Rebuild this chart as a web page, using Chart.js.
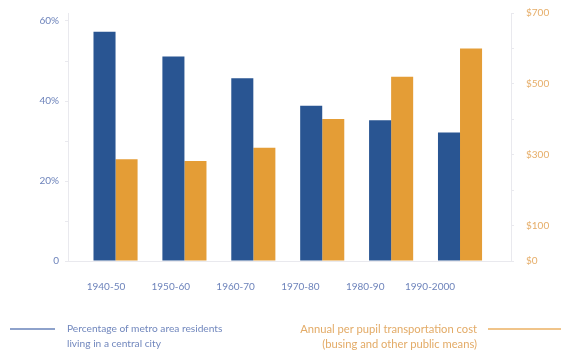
<!DOCTYPE html>
<html>
<head>
<meta charset="utf-8">
<script src="https://cdn.jsdelivr.net/npm/chart.js@4"></script>
<style>
  body { margin: 0; background: #fff; }
  #wrap { position: relative; width: 561px; height: 353px; }
  .leg { position: absolute; font-family: Lato, sans-serif; line-height: 15px; }
  .leg-line { position: absolute; height: 2px; }
</style>
</head>
<body>
<div id="wrap">
  <canvas id="chart1" width="561" height="353"></canvas>
  <div class="leg-line" style="left:10px; top:328px; width:45px; background:#8ea2cb;"></div>
  <div class="leg" style="left:67px; top:321px; font-size:10.2px; color:#7187bd;">Percentage of metro area residents<br>living in a central city</div>
  <div class="leg-line" style="left:488px; top:328px; width:73px; background:#f0c48a;"></div>
  <div class="leg" style="right:84px; top:321px; font-size:11.2px; color:#e3ab67; text-align:right;">Annual per pupil transportation cost<br>(busing and other public means)</div>
</div>
<script>
// decades on the x axis
var decades = ["1940-50", "1950-60", "1960-70", "1970-80", "1980-90", "1990-2000"];
// % of metro residents living in a central city (left axis)
var cityShare = [57.3, 51.1, 45.7, 38.8, 35.2, 32.1];
// annual per pupil transportation cost, $ (right axis)
var pupilCost = [287, 282, 320, 401, 520, 600];
// tick labels
var leftTicks = [0, 10, 20, 30, 40, 50, 60];
var rightTicks = [0, 100, 200, 300, 400, 500, 600, 700];

var axisGray = '#e9e9ee';

function decadeTicks(scale) {
    scale.ticks = decades.map(function(d, i) { return { value: i }; });
}

// fixed side widths and top gap for the y axes
function fitY(width) {
    return function(scale) {
        scale.width = width;
        scale.paddingTop = 13;
        scale.paddingBottom = 0;
    };
}

var canvas = document.getElementById("chart1");
var ctx = canvas.getContext('2d');

var myChart = new Chart(ctx, {
    type: 'bar',
    data: {
        datasets: [{
            label: "Percentage of metro area residents living in a central city",
            data: cityShare.map(function(v, i) { return { x: i, y: v }; }),
            backgroundColor: "#295592",
            xAxisID: 'x',
            yAxisID: 'y'
        }, {
            label: "Annual per pupil transportation cost",
            data: pupilCost.map(function(v, i) { return { x: i, y: v }; }),
            backgroundColor: "#e49d36",
            xAxisID: 'x',
            yAxisID: 'y2'
        }]
    },
    options: {
        responsive: false,
        animation: false,
        categoryPercentage: 0.64,
        barPercentage: 1,
        layout: { padding: 0 },
        scales: {
            // bar positions
            x: {
                type: 'linear',
                display: false,
                offset: false,
                min: -0.69,
                max: 5.74,
                afterBuildTicks: decadeTicks
            },
            // decade labels
            x2: {
                type: 'linear',
                position: 'bottom',
                offset: false,
                min: -0.586,
                max: 6.25,
                afterBuildTicks: decadeTicks,
                afterFit: function(scale) { scale.height = 92; },
                grid: { display: false, drawTicks: false, offset: false },
                border: { display: true, color: axisGray, width: 1 },
                ticks: {
                    padding: 20,
                    maxRotation: 0,
                    autoSkip: false,
                    color: '#6d83bb',
                    font: { family: 'Lato', size: 10 },
                    callback: function(v) { return decades[v]; }
                }
            },
            y: {
                position: 'left',
                min: 0,
                max: 62,
                afterBuildTicks: function(scale) {
                    scale.ticks = leftTicks.map(function(v) { return { value: v }; });
                },
                afterFit: fitY(68),
                grid: { drawOnChartArea: false, color: axisGray, tickLength: 3 },
                border: { color: axisGray },
                ticks: {
                    padding: 6,
                    color: '#6d83bb',
                    font: { family: 'Lato', size: 10 },
                    callback: function(v) {
                        if (v === 0) return '0';
                        return v % 20 === 0 ? v + '%' : '';
                    }
                }
            },
            y2: {
                position: 'right',
                min: 0,
                max: 700,
                afterBuildTicks: function(scale) {
                    scale.ticks = rightTicks.map(function(v) { return { value: v }; });
                },
                afterFit: fitY(50),
                grid: { drawOnChartArea: false, color: axisGray, tickLength: 3 },
                border: { color: axisGray },
                ticks: {
                    padding: 12,
                    color: '#e6ad68',
                    font: { family: 'Lato', size: 10 },
                    callback: function(v) {
                        return (v / 100) % 2 === 0 && v !== 0 ? '' : '$' + v;
                    }
                }
            }
        },
        plugins: {
            legend: { display: false },
            tooltip: { enabled: false }
        }
    }
});
</script>
</body>
</html>
